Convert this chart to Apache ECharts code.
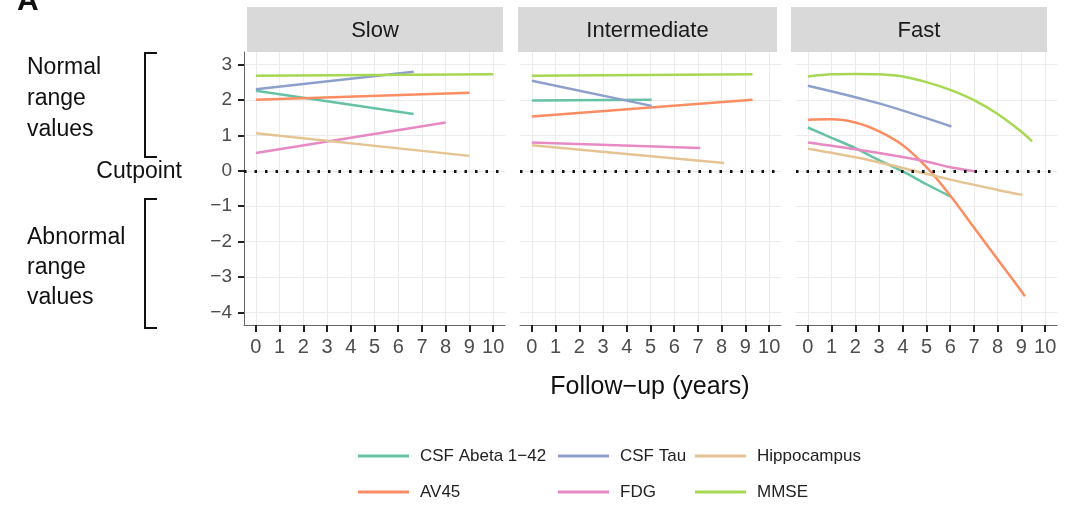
<!DOCTYPE html>
<html><head><meta charset="utf-8">
<script src="https://cdn.jsdelivr.net/npm/echarts@6/dist/echarts.min.js"></script>
<style>html,body{margin:0;padding:0;background:#fff}#c{width:1075px;height:508px}</style>
</head><body><div id="c"></div>
<script>
// ---- data ----
const panels = ['Slow', 'Intermediate', 'Fast'];
const measures = ['CSF Abeta 1\u221242', 'AV45', 'CSF Tau', 'FDG', 'Hippocampus', 'MMSE'];
const xTicks = [0, 1, 2, 3, 4, 5, 6, 7, 8, 9, 10];
const yTicks = [-4, -3, -2, -1, 0, 1, 2, 3];
const xTitle = 'Follow\u2212up (years)';

// each panel: [Abeta, AV45, Tau, FDG, Hippocampus, MMSE] as [year, value] points
const slowData = [
  [[0, 2.26], [6.65, 1.6]],
  [[0, 2.0], [9, 2.2]],
  [[0, 2.3], [6.65, 2.79]],
  [[0, 0.5], [8, 1.36]],
  [[0, 1.06], [9, 0.42]],
  [[0, 2.68], [10, 2.72]]
];
const intermediateData = [
  [[0, 1.98], [5.05, 2.0]],
  [[0, 1.53], [9.3, 2.0]],
  [[0, 2.54], [5.05, 1.83]],
  [[0, 0.8], [7.1, 0.64]],
  [[0, 0.72], [8.1, 0.22]],
  [[0, 2.68], [9.3, 2.72]]
];
const fastData = [
  [[0, 1.22], [1, 0.93], [2, 0.64], [3, 0.3], [4, -0.02], [5, -0.38], [6, -0.72]],
  [[0, 1.44], [1, 1.45], [2, 1.36], [3, 1.11], [4, 0.72], [5, 0.1], [6, -0.7], [7, -1.6], [8, -2.5], [9, -3.4], [9.15, -3.54]],
  [[0, 2.4], [3, 1.9], [6.05, 1.25]],
  [[0, 0.8], [2, 0.61], [4, 0.39], [5, 0.26], [6, 0.1], [7.1, -0.02]],
  [[0, 0.62], [2, 0.38], [4, 0.08], [6, -0.25], [8, -0.54], [9.05, -0.68]],
  [[0, 2.66], [1, 2.72], [2, 2.73], [3, 2.72], [4, 2.66], [5, 2.5], [6, 2.28], [7, 1.99], [8, 1.6], [9, 1.1], [9.45, 0.83]]
];
const panelData = [slowData, intermediateData, fastData];

// ---- styles ----
const colors = ['#66c2a5', '#fc8d62', '#8da0cb', '#e78ac3', '#e5c494', '#a6d854'];
const FONT = 'Liberation Sans, Arial, Helvetica, sans-serif';
const gridLeft = [244, 520, 796];
const gridW = 261, gridTop = 52, gridH = 273;
const stripX = [247, 518, 791];
const stripW = [256, 259, 256];

const grids = [], xAxes = [], yAxes = [], series = [], graphics = [];
panels.forEach((p, i) => {
  grids.push({left: gridLeft[i], top: gridTop, width: gridW, height: gridH, containLabel: false});
  xAxes.push({
    type: 'value', gridIndex: i, min: -0.5, max: 10.5,
    axisLine: {show: true, onZero: false, lineStyle: {color: '#666', width: 1}},
    axisTick: {show: true, customValues: xTicks, length: 7, lineStyle: {color: '#222', width: 2}},
    axisLabel: {customValues: xTicks, fontSize: 20, color: '#4d4d4d', margin: 12, fontFamily: FONT},
    splitLine: {show: true, lineStyle: {color: '#ebebeb', width: 1}}
  });
  const first = i === 0;
  yAxes.push({
    type: 'value', gridIndex: i, min: -4.35, max: 3.35,
    axisLine: {show: first, onZero: false, lineStyle: {color: '#666', width: 1}},
    axisTick: {show: first, customValues: yTicks, length: 6, lineStyle: {color: '#222', width: 2}},
    axisLabel: {show: first, customValues: yTicks, fontSize: 19, color: '#4d4d4d', margin: 12, fontFamily: FONT,
      formatter: v => String(v).replace('-', '\u2212')},
    splitLine: {show: true, lineStyle: {color: '#ebebeb', width: 1}}
  });
  measures.forEach((m, k) => {
    const s = {
      type: 'line', name: m, xAxisIndex: i, yAxisIndex: i,
      data: panelData[i][k], symbol: 'none', showSymbol: false,
      smooth: i === 2 ? 0.3 : false,
      lineStyle: {width: 2.5, color: colors[k]},
      itemStyle: {color: colors[k]},
      z: 3
    };
    if (k === 0) {
      s.markLine = {
        silent: true, symbol: ['none', 'none'], label: {show: false},
        lineStyle: {color: '#111', width: 3, type: [2.5, 8], cap: 'butt'},
        data: [{yAxis: 0}], animation: false, z: 4
      };
    }
    series.push(s);
  });
  graphics.push({type: 'rect', shape: {x: stripX[i], y: 7, width: stripW[i], height: 45}, style: {fill: '#d9d9d9'}});
  graphics.push({type: 'text', x: stripX[i] + stripW[i] / 2, y: 31,
    style: {text: p, fontSize: 22, fill: '#1a1a1a', fontFamily: FONT, align: 'center', verticalAlign: 'middle'}});
});

// left annotations
graphics.push({type: 'text', x: 17, y: 2, style: {text: 'A', fontSize: 30, fontWeight: 'bold', fill: '#111', fontFamily: FONT, verticalAlign: 'middle'}});
graphics.push({type: 'text', x: 27, y: 52, style: {text: 'Normal\nrange\nvalues', fontSize: 23, lineHeight: 31, fill: '#111', fontFamily: FONT, verticalAlign: 'top'}});
graphics.push({type: 'text', x: 27, y: 223, style: {text: 'Abnormal\nrange\nvalues', fontSize: 23, lineHeight: 30, fill: '#111', fontFamily: FONT, verticalAlign: 'top'}});
graphics.push({type: 'text', x: 182, y: 172, style: {text: 'Cutpoint', fontSize: 23, fill: '#111', fontFamily: FONT, align: 'right', verticalAlign: 'middle'}});
graphics.push({type: 'polyline', shape: {points: [[157, 53], [145, 53], [145, 157], [157, 157]]}, style: {stroke: '#111', lineWidth: 2, fill: null}});
graphics.push({type: 'polyline', shape: {points: [[157, 199], [145, 199], [145, 328], [157, 328]]}, style: {stroke: '#111', lineWidth: 2, fill: null}});
graphics.push({type: 'text', x: 650, y: 387, style: {text: xTitle, fontSize: 25, fill: '#111', fontFamily: FONT, align: 'center', verticalAlign: 'middle'}});

// legend: 3 columns x 2 rows, one legend component per item
const legendCols = [358, 558, 695];
const legendRows = [446, 482];
const legends = [];
measures.forEach((m, k) => {
  legends.push({
    orient: 'horizontal', left: legendCols[Math.floor(k / 2)], top: legendRows[k % 2],
    data: [m], icon: 'rect', itemWidth: 51, itemHeight: 3,
    selectedMode: false, padding: 0,
    textStyle: {fontSize: 17, color: '#222', lineHeight: 20, padding: [0, 0, 0, 6], fontFamily: FONT}
  });
});

const chart = echarts.init(document.getElementById('c'), null, {renderer: 'canvas'});
chart.setOption({
  animation: false,
  backgroundColor: '#fff',
  grid: grids, xAxis: xAxes, yAxis: yAxes, series: series,
  legend: legends, graphic: graphics
});
</script></body></html>
